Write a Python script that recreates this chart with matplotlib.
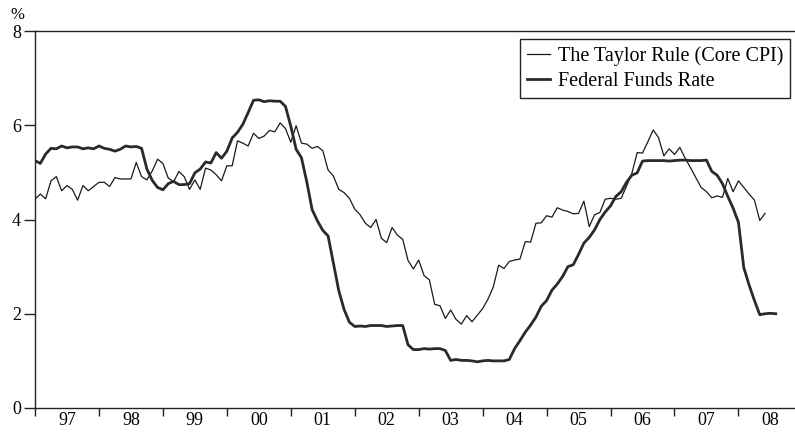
import matplotlib
matplotlib.use('Agg')
import matplotlib.pyplot as plt
import numpy as np

plt.rcParams['font.family'] = ['Liberation Serif', 'DejaVu Serif']

# monthly data, starting Jan 1997
start_year = 1997

taylor_rule = [
    4.43, 4.54, 4.44, 4.82, 4.91, 4.61, 4.72, 4.64, 4.41, 4.72, 4.61, 4.70,   # 97
    4.79, 4.79, 4.70, 4.89, 4.86, 4.86, 4.86, 5.21, 4.91, 4.84, 5.03, 5.28,   # 98
    5.19, 4.88, 4.80, 5.02, 4.91, 4.64, 4.84, 4.64, 5.09, 5.05, 4.95, 4.82,   # 99
    5.14, 5.14, 5.67, 5.62, 5.56, 5.83, 5.72, 5.77, 5.89, 5.86, 6.05, 5.93,   # 00
    5.64, 5.99, 5.62, 5.60, 5.51, 5.55, 5.46, 5.05, 4.92, 4.64, 4.57, 4.45,   # 01
    4.22, 4.10, 3.92, 3.83, 4.00, 3.60, 3.51, 3.83, 3.67, 3.58, 3.13, 2.95,   # 02
    3.14, 2.81, 2.72, 2.20, 2.17, 1.90, 2.08, 1.88, 1.78, 1.96, 1.83, 1.97,   # 03
    2.11, 2.31, 2.57, 3.03, 2.96, 3.11, 3.14, 3.16, 3.53, 3.52, 3.92, 3.93,   # 04
    4.08, 4.05, 4.25, 4.20, 4.17, 4.12, 4.13, 4.39, 3.85, 4.10, 4.15, 4.43,   # 05
    4.45, 4.43, 4.45, 4.71, 4.98, 5.42, 5.41, 5.65, 5.90, 5.74, 5.35, 5.50,   # 06
    5.38, 5.53, 5.30, 5.10, 4.89, 4.68, 4.59, 4.46, 4.50, 4.47, 4.87, 4.59,   # 07
    4.82, 4.68, 4.54, 4.41, 3.98, 4.13,                                       # 08
]

fed_funds = [
    5.25, 5.19, 5.39, 5.51, 5.50, 5.56, 5.52, 5.54, 5.54, 5.50, 5.52, 5.50,
    5.56, 5.51, 5.49, 5.45, 5.49, 5.56, 5.54, 5.55, 5.51, 5.07, 4.83, 4.68,
    4.63, 4.76, 4.81, 4.74, 4.74, 4.76, 4.99, 5.07, 5.22, 5.20, 5.42, 5.30,
    5.45, 5.73, 5.85, 6.02, 6.27, 6.53, 6.54, 6.50, 6.52, 6.51, 6.51, 6.40,
    5.98, 5.49, 5.31, 4.80, 4.21, 3.97, 3.77, 3.65, 3.07, 2.49, 2.09, 1.82,
    1.73, 1.74, 1.73, 1.75, 1.75, 1.75, 1.73, 1.74, 1.75, 1.75, 1.34, 1.24,
    1.24, 1.26, 1.25, 1.26, 1.26, 1.22, 1.01, 1.03, 1.01, 1.01, 1.00, 0.98,
    1.00, 1.01, 1.00, 1.00, 1.00, 1.03, 1.26, 1.43, 1.61, 1.76, 1.93, 2.16,
    2.28, 2.50, 2.63, 2.79, 3.00, 3.04, 3.26, 3.50, 3.62, 3.78, 4.00, 4.16,
    4.29, 4.49, 4.59, 4.79, 4.94, 4.99, 5.24, 5.25, 5.25, 5.25, 5.25, 5.24,
    5.25, 5.26, 5.26, 5.25, 5.25, 5.25, 5.26, 5.02, 4.94, 4.76, 4.49, 4.24,
    3.94, 2.98, 2.61, 2.28, 1.98, 2.00, 2.01, 2.00,
]

year_labels = ['97', '98', '99', '00', '01', '02', '03', '04', '05', '06', '07', '08']
y_ticks = [0, 2, 4, 6, 8]

x_taylor = start_year + np.arange(len(taylor_rule)) / 12
x_ffr = start_year + np.arange(len(fed_funds)) / 12
years = start_year + np.arange(len(year_labels))

fig = plt.figure(figsize=(7.95, 4.33), dpi=100)
ax = fig.add_axes([35 / 795, 25 / 433, 760 / 795, 377 / 433])

ax.plot(x_taylor, taylor_rule, color='#1a1a1a', lw=0.9, label='The Taylor Rule (Core CPI)')
ax.plot(x_ffr, fed_funds, color='#2a2a2a', lw=2.0, label='Federal Funds Rate')

# plot area runs past the right edge of the picture
ax.set_xlim(start_year, start_year + 760 / 63.95)
ax.set_ylim(0, 8)

# year ticks at boundaries, labels centred between them
ax.set_xticks(years)
ax.set_xticklabels([])
ax.set_xticks(years + 0.5, minor=True)
ax.set_xticklabels(year_labels, minor=True, fontsize=13)
ax.tick_params(axis='x', which='major', direction='out', length=6, width=1, color='#222222')
ax.tick_params(axis='x', which='minor', length=0, pad=3)

ax.set_yticks(y_ticks)
ax.set_yticklabels([str(v) for v in y_ticks], fontsize=13)
ax.tick_params(axis='y', direction='out', length=8, width=1, color='#222222', pad=2)

ax.spines['right'].set_visible(False)
for s in ['left', 'bottom', 'top']:
    ax.spines[s].set_color('#222222')
    ax.spines[s].set_linewidth(1)

fig.text(17 / 795, 1 - 15 / 433, '%', fontsize=12, ha='center', va='center')

leg = ax.legend(loc='upper right', bbox_to_anchor=(0.994, 0.978), borderaxespad=0,
                fontsize=14.5, frameon=True, fancybox=False, edgecolor='#222222',
                framealpha=1, handlelength=1.15, handletextpad=0.4,
                borderpad=0.35, labelspacing=0.3)
leg.get_frame().set_linewidth(1)

fig.savefig('out.png', dpi=100)
